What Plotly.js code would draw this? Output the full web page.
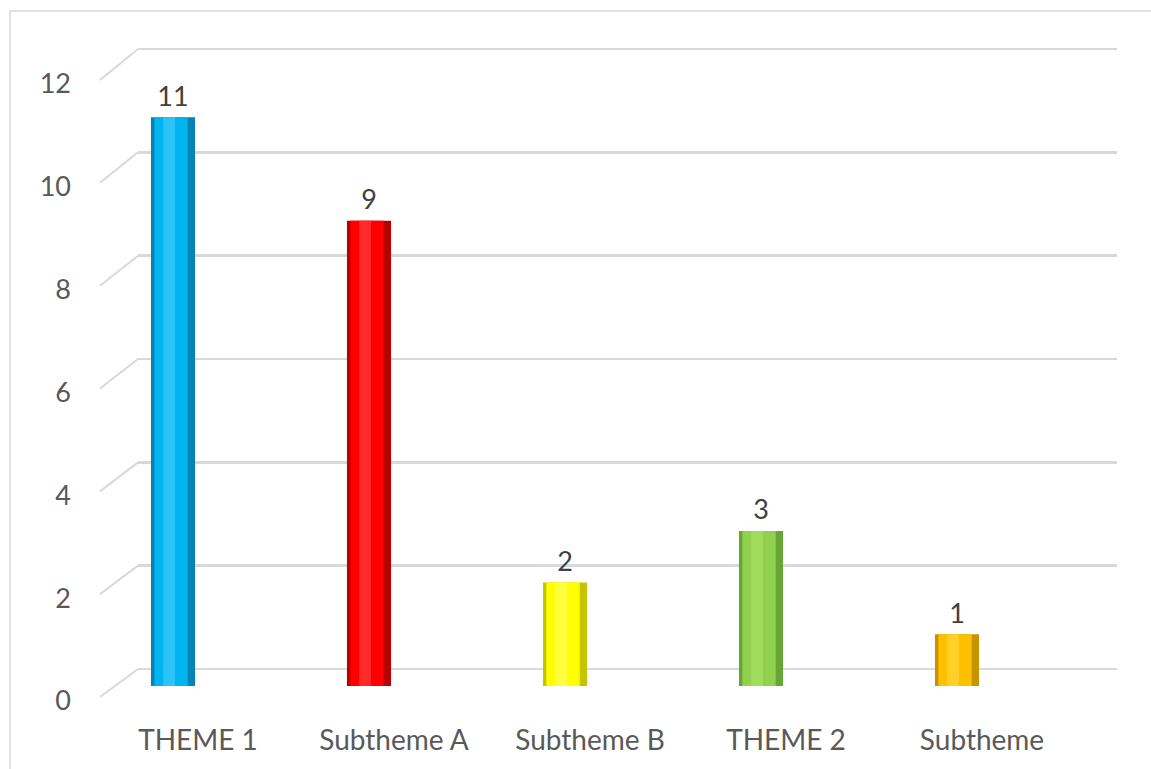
<!DOCTYPE html>
<html>
<head>
<meta charset="utf-8">
<script src="https://cdn.plot.ly/plotly-3.0.1.min.js"></script>
<style>html,body{margin:0;padding:0;background:#fff;}#chart{width:1151px;height:769px;}</style>
</head>
<body>
<div id="chart"></div>
<script>
// ---- data ----
const categories = ["THEME 1", "Subtheme A", "Subtheme B", "THEME 2", "Subtheme"];
const values = [11, 9, 2, 3, 1];
const yTicks = [0, 2, 4, 6, 8, 10, 12];
const baseColors = ["#00b4f0", "#ff0000", "#ffff00", "#92d050", "#ffc000"];
const edgeColors = ["#0782b4", "#b80000", "#c4c400", "#67a536", "#c69400"];
const lightColors = ["#2cc4f8", "#ff2a2a", "#ffff40", "#a0dc5e", "#ffd028"];

const W = 1151, H = 769;
const px = v => v / W;
const py = v => 1 - v / H;

// planes (pixel layout)
const back = {x0: 138, x1: 1117, y0: 669, y1: 49};   // gridlines
const bars = {x0: 75, x1: 1055, y0: 686, y1: 65.6};  // cylinders
const front = {x0: 100, x1: 1080, y0: 701, y1: 84};  // labels
const yMax = 12;
const pad = 0.25; // extra range so edge gridlines are drawn

const fontFam = "Lato, 'Open Sans', sans-serif";

function padDomain(p) {
  const unit = (p.y0 - p.y1) / yMax;
  return [py(p.y0 + pad * unit), py(p.y1 - pad * unit)];
}

const traces = [
  // back plane helper (first subplot => drawn underneath)
  {type: "scatter", x: [0, 1], y: [0, yMax], mode: "none", hoverinfo: "skip", xaxis: "x", yaxis: "y", showlegend: false},
  // cylinders (second subplot => drawn on top of gridlines)
  {type: "bar", x: categories, y: values, width: 0.225,
   marker: {color: edgeColors, line: {width: 0}}, hoverinfo: "x+y", xaxis: "x2", yaxis: "y2"},
  {type: "bar", x: categories, y: values, width: 0.17, offset: -0.095,
   marker: {color: baseColors, line: {width: 0}}, hoverinfo: "skip", xaxis: "x2", yaxis: "y2"},
  {type: "bar", x: categories, y: values, width: 0.06, offset: -0.05,
   marker: {color: lightColors, line: {width: 0}}, hoverinfo: "skip", xaxis: "x2", yaxis: "y2"},
  // value labels
  {type: "scatter", x: categories, y: values, mode: "markers+text",
   marker: {size: 6, color: "rgba(0,0,0,0)"},
   text: values.map(String), textposition: "top center", cliponaxis: false,
   textfont: {family: fontFam, size: 27, color: "#404040"},
   hoverinfo: "skip", xaxis: "x2", yaxis: "y2", showlegend: false},
  // front plane helper (labels)
  {type: "scatter", x: categories, y: values, mode: "none", hoverinfo: "skip", xaxis: "x3", yaxis: "y3", showlegend: false}
];

// diagonal connectors from front tick to back gridline
const frontLine = {y0: 697, y1: 80};
const shapes = yTicks.map(t => ({
  type: "line", xref: "paper", yref: "paper",
  x0: px(front.x0), y0: py(frontLine.y0 + (frontLine.y1 - frontLine.y0) * t / yMax),
  x1: px(back.x0), y1: py(back.y0 + (back.y1 - back.y0) * t / yMax),
  line: {color: "#d9d9d9", width: 2}, layer: "below"
}));
// outer chart border (top and left visible)
shapes.push({type: "line", xref: "paper", yref: "paper", x0: px(10), x1: 1.01, y0: py(11), y1: py(11), line: {color: "#d9d9d9", width: 1.5}});
shapes.push({type: "line", xref: "paper", yref: "paper", x0: px(10), x1: px(10), y0: py(11), y1: -0.01, line: {color: "#d9d9d9", width: 1.5}});

const layout = {
  width: W, height: H,
  margin: {l: 0, r: 0, t: 0, b: 0},
  paper_bgcolor: "#ffffff", plot_bgcolor: "rgba(0,0,0,0)",
  showlegend: false, barmode: "overlay",
  font: {family: fontFam, color: "#595959"},
  xaxis: {domain: [px(back.x0), px(back.x1)], range: [0, 1], visible: false, anchor: "y"},
  yaxis: {domain: padDomain(back), range: [-pad, yMax + pad], tickvals: yTicks, showticklabels: false,
          showgrid: true, gridcolor: "#d9d9d9", gridwidth: 2.5, zeroline: false, showline: false, ticks: "", anchor: "x"},
  xaxis2: {domain: [px(bars.x0), px(bars.x1)], range: [-0.5, 4.5], showticklabels: false,
           showgrid: false, zeroline: false, showline: false, ticks: "", anchor: "y2", type: "category", categoryarray: categories},
  yaxis2: {domain: [py(bars.y0), py(bars.y1)], range: [0, yMax], showticklabels: false,
           showgrid: false, zeroline: false, showline: false, ticks: "", anchor: "x2"},
  xaxis3: {domain: [px(front.x0), px(front.x1)], range: [-0.5, 4.5], type: "category", categoryarray: categories,
           showgrid: false, zeroline: false, showline: false, ticks: "", anchor: "y3",
           tickfont: {family: fontFam, size: 28, color: "#595959"}, ticklabelstandoff: 20},
  yaxis3: {domain: [py(front.y0), py(front.y1)], range: [0, yMax], tickvals: yTicks,
           showgrid: false, zeroline: false, showline: false, ticks: "", anchor: "x3",
           tickfont: {family: fontFam, size: 27, color: "#595959"}, ticklabelstandoff: 28},
  shapes: shapes
};

Plotly.newPlot("chart", traces, layout, {displayModeBar: false, staticPlot: true});
</script>
</body>
</html>
